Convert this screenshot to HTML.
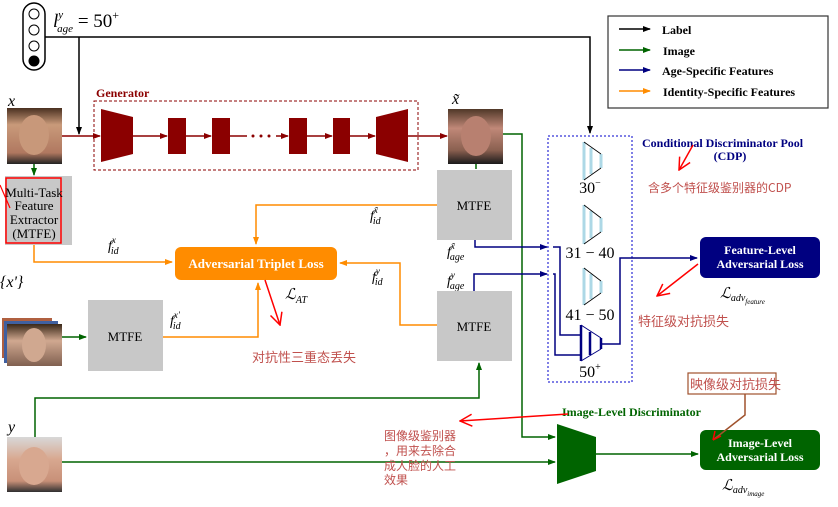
<!DOCTYPE html>
<html><head><meta charset="utf-8"><style>body{margin:0;background:#fff}svg{display:block}</style></head><body>
<svg width="838" height="507" viewBox="0 0 838 507" xmlns="http://www.w3.org/2000/svg" font-family="Liberation Serif, serif">
<defs>
<marker id="ak" markerWidth="8" markerHeight="8" refX="7" refY="4" orient="auto" markerUnits="userSpaceOnUse"><path d="M0,1 L8,4 L0,7z" fill="#000"/></marker>
<marker id="ar" markerWidth="8" markerHeight="8" refX="7" refY="4" orient="auto" markerUnits="userSpaceOnUse"><path d="M0,1 L8,4 L0,7z" fill="#8b0000"/></marker>
<marker id="ag" markerWidth="8" markerHeight="8" refX="7" refY="4" orient="auto" markerUnits="userSpaceOnUse"><path d="M0,1 L8,4 L0,7z" fill="#006400"/></marker>
<marker id="ab" markerWidth="8" markerHeight="8" refX="7" refY="4" orient="auto" markerUnits="userSpaceOnUse"><path d="M0,1 L8,4 L0,7z" fill="#000080"/></marker>
<marker id="ao" markerWidth="8" markerHeight="8" refX="7" refY="4" orient="auto" markerUnits="userSpaceOnUse"><path d="M0,1 L8,4 L0,7z" fill="#ff8c00"/></marker>
<marker id="arf" markerWidth="14" markerHeight="14" refX="13" refY="7" orient="auto" markerUnits="userSpaceOnUse"><path d="M1,1 L13,7 L1,13" fill="none" stroke="#ff0000" stroke-width="1.5"/></marker>
<linearGradient id="f1" x1="0" y1="0" x2="0" y2="1"><stop offset="0" stop-color="#4a3020"/><stop offset="0.3" stop-color="#c99a7a"/><stop offset="0.8" stop-color="#b07860"/><stop offset="1" stop-color="#222"/></linearGradient>
<linearGradient id="f2" x1="0" y1="0" x2="0" y2="1"><stop offset="0" stop-color="#503828"/><stop offset="0.35" stop-color="#c08878"/><stop offset="0.75" stop-color="#8a6050"/><stop offset="1" stop-color="#1a1a1a"/></linearGradient>
<linearGradient id="f3" x1="0" y1="0" x2="0" y2="1"><stop offset="0" stop-color="#3a2818"/><stop offset="0.4" stop-color="#d0a890"/><stop offset="1" stop-color="#806050"/></linearGradient>
<linearGradient id="f4" x1="0" y1="0" x2="0" y2="1"><stop offset="0" stop-color="#d8d8d8"/><stop offset="0.4" stop-color="#d8a890"/><stop offset="0.8" stop-color="#c89078"/><stop offset="1" stop-color="#303030"/></linearGradient>
</defs>

<rect x="23" y="3" width="22" height="67" rx="11" fill="#fff" stroke="#000" stroke-width="1.5"/>
<circle cx="34" cy="14" r="5" fill="#fff" stroke="#000"/>
<circle cx="34" cy="30" r="5" fill="#fff" stroke="#000"/>
<circle cx="34" cy="46" r="5" fill="#fff" stroke="#000"/>
<circle cx="34" cy="61" r="5.5" fill="#000"/>
<text x="53" y="27" font-size="19" font-style="italic">l<tspan font-size="11" dy="-9">y</tspan><tspan font-size="11" dx="-6" dy="14">age</tspan><tspan font-style="normal" font-size="19" dy="-5"> = 50</tspan><tspan font-style="normal" font-size="12" dy="-8">+</tspan></text>
<path d="M45,37 H590 V133" fill="none" stroke="#000" stroke-width="1.5" marker-end="url(#ak)"/>
<path d="M79,37 V134" fill="none" stroke="#000" stroke-width="1.5" marker-end="url(#ak)"/>

<rect x="608" y="16" width="220" height="92" fill="#fff" stroke="#333" stroke-width="1.2"/>
<g stroke-width="1.5">
<line x1="619" y1="29" x2="650" y2="29" stroke="#000" marker-end="url(#ak)"/>
<line x1="619" y1="50" x2="650" y2="50" stroke="#006400" marker-end="url(#ag)"/>
<line x1="619" y1="70" x2="650" y2="70" stroke="#000080" marker-end="url(#ab)"/>
<line x1="619" y1="91" x2="650" y2="91" stroke="#ff8c00" marker-end="url(#ao)"/>
</g>
<g font-size="12" font-weight="bold"><text x="662" y="34">Label</text><text x="663" y="55">Image</text><text x="662" y="75">Age-Specific Features</text><text x="663" y="96">Identity-Specific Features</text></g>

<text x="8" y="106" font-size="16" font-style="italic">x</text>
<rect x="7" y="108" width="55" height="56" fill="url(#f1)"/>
<ellipse cx="34" cy="135" rx="15" ry="20" fill="#c8987a"/>
<line x1="34" y1="164" x2="34" y2="175" stroke="#006400" stroke-width="1.5" marker-end="url(#ag)"/>
<rect x="5" y="176" width="67" height="69" fill="#c8c8c8"/>
<rect x="6" y="178" width="55" height="65" fill="none" stroke="#ff0000" stroke-width="1.5"/>
<line x1="0" y1="185" x2="10" y2="208" stroke="#ff0000" stroke-width="1.2"/>
<g font-size="13" text-anchor="middle"><text x="34" y="197">Multi-Task</text><text x="34" y="210">Feature</text><text x="34" y="224">Extractor</text><text x="34" y="238">(MTFE)</text></g>

<text x="96" y="97" font-size="12" font-weight="bold" fill="#8b0000">Generator</text>
<rect x="94" y="101" width="324" height="69" fill="none" stroke="#8b0000" stroke-dasharray="3,2" stroke-width="1"/>
<g fill="#8b0000">
<path d="M101,109 L133,117 L133,154 L101,162z"/>
<rect x="168" y="118" width="18" height="36"/>
<rect x="212" y="118" width="18" height="36"/>
<rect x="289" y="118" width="18" height="36"/>
<rect x="333" y="118" width="17" height="36"/>
<path d="M376,117 L408,109 L408,162 L376,154z"/>
<circle cx="253" cy="136" r="1.5"/><circle cx="261" cy="136" r="1.5"/><circle cx="269" cy="136" r="1.5"/>
</g>
<g stroke="#8b0000" stroke-width="1.5" fill="none">
<line x1="62" y1="136" x2="100" y2="136" marker-end="url(#ar)"/>
<line x1="133" y1="136" x2="167" y2="136" marker-end="url(#ar)"/>
<line x1="186" y1="136" x2="211" y2="136" marker-end="url(#ar)"/>
<line x1="230" y1="136" x2="247" y2="136"/>
<line x1="276" y1="136" x2="288" y2="136" marker-end="url(#ar)"/>
<line x1="307" y1="136" x2="332" y2="136" marker-end="url(#ar)"/>
<line x1="350" y1="136" x2="375" y2="136" marker-end="url(#ar)"/>
<line x1="408" y1="136" x2="447" y2="136" marker-end="url(#ar)"/>
</g>

<text x="452" y="104" font-size="16" font-style="italic">x̃</text>
<rect x="448" y="109" width="55" height="55" fill="url(#f2)"/>
<ellipse cx="476" cy="136" rx="15" ry="20" fill="#b88070"/>
<line x1="476" y1="164" x2="476" y2="169" stroke="#006400" stroke-width="1.5"/>
<rect x="437" y="170" width="75" height="70" fill="#c8c8c8"/>
<text x="474" y="210" font-size="13" text-anchor="middle">MTFE</text>

<rect x="175" y="247" width="162" height="33" rx="6" fill="#ff8c00"/>
<text x="256" y="268" font-size="13" font-weight="bold" fill="#fff" text-anchor="middle">Adversarial Triplet Loss</text>
<g stroke="#ff8c00" stroke-width="1.5" fill="none">
<path d="M34,245 V262 H172" marker-end="url(#ao)"/>
<path d="M437,205 H256 V244" marker-end="url(#ao)"/>
<path d="M437,325 H400 V263 H340" marker-end="url(#ao)"/>
<path d="M163,337 H258 V283" marker-end="url(#ao)"/>
</g>
<g font-size="14" font-style="italic">
<text x="108" y="250">f<tspan font-size="9" dy="-7">x</tspan><tspan font-size="10" dx="-5" dy="11">id</tspan></text>
<text x="370" y="220">f<tspan font-size="9" dy="-7">x̃</tspan><tspan font-size="10" dx="-5" dy="11">id</tspan></text>
<text x="372" y="281">f<tspan font-size="9" dy="-7">y</tspan><tspan font-size="10" dx="-5" dy="11">id</tspan></text>
<text x="170" y="325">f<tspan font-size="9" dy="-7">x'</tspan><tspan font-size="10" dx="-7" dy="11">id</tspan></text>
<text x="447" y="256">f<tspan font-size="9" dy="-7">x̃</tspan><tspan font-size="10" dx="-5" dy="11">age</tspan></text>
<text x="447" y="285">f<tspan font-size="9" dy="-7">y</tspan><tspan font-size="10" dx="-5" dy="11">age</tspan></text>
</g>
<text x="285" y="299" font-size="15" font-style="italic">ℒ<tspan font-size="10" dy="4">AT</tspan></text>
<line x1="265" y1="280" x2="280" y2="325" stroke="#ff0000" stroke-width="1.5" marker-end="url(#arf)"/>
<text x="252" y="362" font-size="13" fill="#c0504d" font-family="Noto Sans CJK SC, sans-serif">对抗性三重态丢失</text>

<text x="0" y="287" font-size="16" font-style="italic">{x'}</text>
<rect x="2" y="318" width="50" height="40" fill="#b06040"/>
<rect x="4" y="321" width="54" height="42" fill="#4060a0"/>
<rect x="7" y="324" width="55" height="42" fill="url(#f3)"/>
<ellipse cx="34" cy="345" rx="12" ry="17" fill="#d0a890"/>
<line x1="62" y1="337" x2="86" y2="337" stroke="#006400" stroke-width="1.5" marker-end="url(#ag)"/>
<rect x="88" y="300" width="75" height="71" fill="#c8c8c8"/>
<text x="125" y="341" font-size="13" text-anchor="middle">MTFE</text>

<rect x="437" y="291" width="75" height="70" fill="#c8c8c8"/>
<text x="474" y="331" font-size="13" text-anchor="middle">MTFE</text>

<text x="8" y="432" font-size="16" font-style="italic">y</text>
<rect x="7" y="437" width="55" height="55" fill="url(#f4)"/>
<ellipse cx="34" cy="466" rx="15" ry="19" fill="#d8a890"/>

<g stroke="#006400" stroke-width="1.5" fill="none">
<path d="M503,134 H522 V437 H555" marker-end="url(#ag)"/>
<path d="M62,462 H555" marker-end="url(#ag)"/>
<path d="M35,437 V398 H479 V363" marker-end="url(#ag)"/>
<path d="M596,454 H698" marker-end="url(#ag)"/>
</g>
<path d="M557,424 L596,437 L596,471 L557,484z" fill="#006400"/>

<rect x="548" y="136" width="84" height="246" fill="none" stroke="#0000cd" stroke-dasharray="2,2" stroke-width="1"/>
<g stroke="#add8e6" stroke-width="3" fill="none">
<line x1="584" y1="142" x2="584" y2="180"/><line x1="591" y1="148" x2="591" y2="174"/><line x1="601" y1="154" x2="601" y2="168"/>
<line x1="584" y1="205" x2="584" y2="244"/><line x1="591" y1="211" x2="591" y2="238"/><line x1="601" y1="218" x2="601" y2="232"/>
<line x1="584" y1="268" x2="584" y2="305"/><line x1="591" y1="274" x2="591" y2="299"/><line x1="601" y1="281" x2="601" y2="293"/>
</g>
<g stroke="#000" stroke-width="0.8" fill="none">
<path d="M584,142 L601,154 M584,180 L601,168"/>
<path d="M584,205 L601,218 M584,244 L601,232"/>
<path d="M584,268 L601,281 M584,305 L601,293"/>
</g>
<g stroke="#000080" stroke-width="2.5" fill="none">
<line x1="581" y1="325" x2="581" y2="361"/><line x1="590" y1="332" x2="590" y2="355"/><line x1="601" y1="338" x2="601" y2="349"/>
</g>
<path d="M581,325 L601,338 M581,361 L601,349" stroke="#000080" stroke-width="1" fill="none"/>
<g font-size="16" text-anchor="middle"><text x="590" y="193">30<tspan font-size="10" dy="-7">−</tspan></text><text x="590" y="258">31 − 40</text><text x="590" y="320">41 − 50</text><text x="590" y="377">50<tspan font-size="10" dy="-7">+</tspan></text></g>
<g stroke="#000080" stroke-width="1.5" fill="none">
<path d="M475,240 V247 H547" marker-end="url(#ab)"/>
<path d="M553,247 H560 V335 H581"/>
<path d="M474,291 V274 H547" marker-end="url(#ab)"/>
<path d="M553,274 H555 V355 H581"/>
<path d="M601,344 H620 V258 H697" marker-end="url(#ab)"/>
</g>
<text x="642" y="147" font-size="12" font-weight="bold" fill="#000080">Conditional Discriminator Pool</text>
<text x="730" y="160" font-size="12" font-weight="bold" fill="#000080" text-anchor="middle">(CDP)</text>
<line x1="693" y1="145" x2="679" y2="170" stroke="#ff0000" stroke-width="1.5" marker-end="url(#arf)"/>
<text x="648" y="192" font-size="12" fill="#c0504d" font-family="Noto Sans CJK SC, sans-serif">含多个特征级鉴别器的CDP</text>

<rect x="700" y="237" width="120" height="41" rx="6" fill="#000080"/>
<g font-size="12" font-weight="bold" fill="#fff" text-anchor="middle"><text x="760" y="254">Feature-Level</text><text x="760" y="268">Adversarial Loss</text></g>
<text x="720" y="298" font-size="15" font-style="italic">ℒ<tspan font-size="10" dy="3">adv</tspan><tspan font-size="7" dy="3">feature</tspan></text>
<line x1="698" y1="264" x2="657" y2="296" stroke="#ff0000" stroke-width="1.5" marker-end="url(#arf)"/>
<text x="638" y="326" font-size="13" fill="#c0504d" font-family="Noto Sans CJK SC, sans-serif">特征级对抗损失</text>

<text x="562" y="416" font-size="12" font-weight="bold" fill="#006400">Image-Level Discriminator</text>
<line x1="568" y1="414" x2="460" y2="421" stroke="#ff0000" stroke-width="1.5" marker-end="url(#arf)"/>
<g font-size="12" fill="#c0504d" font-family="Noto Sans CJK SC, sans-serif"><text x="384" y="440">图像级鉴别器</text><text x="384" y="455">，用来去除合</text><text x="384" y="470">成人脸的人工</text><text x="384" y="484">效果</text></g>
<rect x="700" y="430" width="120" height="40" rx="6" fill="#006400"/>
<g font-size="12" font-weight="bold" fill="#fff" text-anchor="middle"><text x="760" y="447">Image-Level</text><text x="760" y="461">Adversarial Loss</text></g>
<text x="722" y="490" font-size="15" font-style="italic">ℒ<tspan font-size="10" dy="3">adv</tspan><tspan font-size="7" dy="3">image</tspan></text>
<rect x="688" y="373" width="88" height="21" fill="#fff" stroke="#a0522d" stroke-width="1.2"/>
<text x="690" y="389" font-size="13" fill="#c0504d" font-family="Noto Sans CJK SC, sans-serif">映像级对抗损失</text>
<path d="M745,394 V415 L713,440" fill="none" stroke="#a0522d" stroke-width="1.5"/>
<path d="M713,440 L715,431 M713,440 L721,436" stroke="#ff0000" stroke-width="1.5"/>
</svg>
</body></html>
